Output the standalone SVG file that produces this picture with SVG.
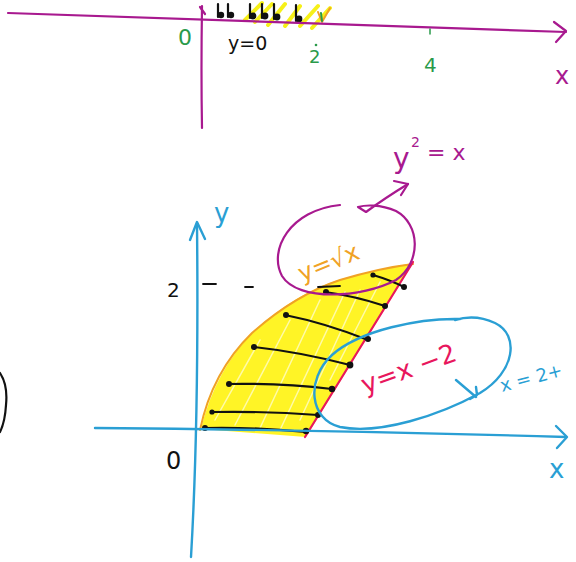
<svg xmlns="http://www.w3.org/2000/svg" width="576" height="562" viewBox="0 0 576 562">
<style>
.s{fill:none;stroke-linecap:round;stroke-linejoin:round}
.mag{stroke:#a8198f;stroke-width:2.2}
.blu{stroke:#2a9fd4;stroke-width:2.4}
.pnk{stroke:#e8175d;stroke-width:2.2}
.org{stroke:#f0a225;stroke-width:2}
.blk{stroke:#111;stroke-width:2.2}
.yel{stroke:#f5ee00;stroke-width:4;opacity:.9}
.t{font-family:"DejaVu Sans","Noto Sans",sans-serif}
.dot{fill:#111}
</style>

<g id="top-graph">
  <g id="top-yellow">
    <path class="s yel" d="M245 20 L262 3 M255 22 L272 4 M268 25 L285 4 M285 26 L300 6 M300 26 L318 6 M312 28 L330 8"/>
  </g>
  <g id="top-marks">
    <path class="s blk" d="M218 4 L218 17 M228 4 L228 17 M250 4 L250 18 M262 4 L262 18 M274 4 L274 19 M296 5 L296 21" stroke-width="2"/>
    <circle class="dot" cx="221" cy="15" r="3.2"/>
    <circle class="dot" cx="231" cy="15" r="3.2"/>
    <circle class="dot" cx="253" cy="16" r="3.4"/>
    <circle class="dot" cx="265" cy="16" r="3.4"/>
    <circle class="dot" cx="277" cy="17" r="3.4"/>
    <circle class="dot" cx="299" cy="19" r="3.4"/>
    <path class="s" stroke="#f0a225" stroke-width="2" d="M318 12 L322 22 L330 8"/>
    <path class="s" stroke="#2a9a4a" stroke-width="2" d="M321 13 L322 21"/>
  </g>
  <g id="top-axes">
    <path class="s mag" d="M8 13 Q300 22 566 32"/>
    <path class="s mag" d="M554 22 L566 31 L556 42"/>
    <path class="s mag" d="M202 6 Q201 70 202 128"/>
    <path class="s mag" d="M200 7 L205 14" stroke-width="1.6"/>
    <path class="s" stroke="#2a9a4a" stroke-width="1.5" d="M430 29 L430 34"/>
    <circle cx="316" cy="45" r="1.3" fill="#2a9a4a"/>
  </g>
  <text class="t" x="178" y="45" font-size="22" fill="#2a9a4a">0</text>
  <text class="t" x="228" y="50" font-size="19" fill="#111">y=0</text>
  <text class="t" x="309" y="63" font-size="18" fill="#2a9a4a">2</text>
  <text class="t" x="424" y="72" font-size="20" fill="#2a9a4a">4</text>
  <text class="t" x="555" y="84" font-size="24" fill="#a8198f">x</text>
</g>

<g id="left-mark">
  <path class="s blk" d="M0 373 Q8 385 6 405 Q5 422 0 432" stroke-width="2.6"/>
</g>

<g id="region">
  <path d="M201 429 Q215 370 255 330 Q300 290 345 278 Q385 268 413 263 L306 437 Z" fill="#fff200" opacity="0.85"/>
  <path class="s" stroke="#ffffff" stroke-width="1.5" opacity="0.6" d="M215 420 L260 340 M235 425 L290 320 M260 428 L320 300 M280 430 L345 292 M300 420 L360 290 M330 380 L380 282"/>
</g>

<g id="connectors">
  <path class="s org" d="M200 430 Q212 372 252 333 Q295 295 340 280 Q380 268 413 264"/>
  <path class="s pnk" d="M305 437 L413 262"/>
  <path class="s blk" d="M205 428 Q255 427 306 432"/>
  <path class="s blk" d="M212 412 Q265 411 318 415"/>
  <path class="s blk" d="M228 384 Q280 383 332 389"/>
  <path class="s blk" d="M254 347 Q300 352 350 365"/>
  <path class="s blk" d="M285 315 Q325 323 368 340"/>
  <path class="s blk" d="M325 292 Q355 296 385 306"/>
  <path class="s blk" d="M373 275 Q390 280 404 287"/>
  <g class="dot">
    <circle cx="205" cy="428" r="3"/><circle cx="306" cy="431" r="3.2"/>
    <circle cx="212" cy="412" r="2.6"/><circle cx="318" cy="415" r="3"/>
    <circle cx="229" cy="384" r="3"/><circle cx="332" cy="389" r="3.2"/>
    <circle cx="254" cy="347" r="3"/><circle cx="350" cy="365" r="3.4"/>
    <circle cx="286" cy="315" r="3"/><circle cx="368" cy="339" r="3"/>
    <circle cx="326" cy="292" r="3"/><circle cx="385" cy="306" r="3"/>
    <circle cx="373" cy="275" r="2.6"/><circle cx="404" cy="287" r="3"/>
  </g>
  <path class="s blu" d="M191 557 Q199 420 197 224"/>
  <path class="s blu" d="M190 240 L197 222 L205 239"/>
  <path class="s blu" d="M95 428 Q330 430 566 437"/>
  <path class="s blu" d="M556 426 L567 437 L557 448"/>
  <path class="s" stroke="#111" stroke-width="1.8" d="M203 284 L216 284 M245 287 L253 287 M318 287 L340 286"/>
  <path class="s mag" d="M340 205 C290 210 268 250 282 276 C298 302 362 298 396 280 C422 262 420 224 396 211 C380 204 365 205 358 207 L366 212 Q385 198 408 184"/>
  <path class="s mag" d="M394 181 L408 184 L401 195"/>
  <path class="s blu" d="M460 319 C420 318 360 330 332 355 C305 380 310 420 340 427 C380 435 440 415 480 393 C515 372 520 335 495 323 C480 316 465 317 455 320 M456 380 L476 397 M470 399 L477 395 L476 387"/>
</g>

<g id="labels">
  <text class="t" x="214" y="222" font-size="26" fill="#2a9fd4">y</text>
  <text class="t" x="549" y="478" font-size="26" fill="#2a9fd4">x</text>
  <text class="t" x="166" y="469" font-size="24" fill="#111">0</text>
  <text class="t" x="167" y="297" font-size="20" fill="#111">2</text>
  <text class="t" x="393" y="168" font-size="28" fill="#a8198f">y</text>
  <text class="t" x="411" y="147" font-size="14" fill="#a8198f">2</text>
  <text class="t" x="427" y="160" font-size="22" fill="#a8198f">= x</text>
  <text class="t" x="302" y="282" font-size="24" fill="#f0a225" transform="rotate(-22 302 282)">y=√x</text>
  <text class="t" x="365" y="394" font-size="26" fill="#e8175d" transform="rotate(-20 365 394)">y=x −2</text>
  <text class="t" x="502" y="392" font-size="18" fill="#2a9fd4" transform="rotate(-15 502 392)">x = 2+</text>
</g>
</svg>
